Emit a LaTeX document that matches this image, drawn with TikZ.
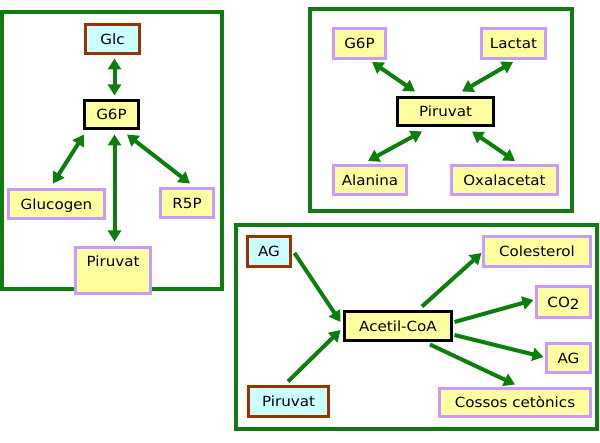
\documentclass[tikz,border=0pt]{standalone}
\usepackage{fontspec}
\setmainfont{DejaVu Sans}[FakeStretch=1.08]
\usetikzlibrary{arrows.meta,calc}
\definecolor{framegreen}{RGB}{20,122,20}
\definecolor{arrowgreen}{RGB}{10,128,10}
\definecolor{boxyellow}{RGB}{255,255,160}
\definecolor{boxcyan}{RGB}{204,255,255}
\definecolor{boxbrown}{RGB}{153,51,0}
\definecolor{boxlilac}{RGB}{204,153,255}
\tikzset{
  mbox/.style={rectangle, line width=3pt, inner sep=0pt, text height=10.2pt, text depth=0pt,
     font=\fontsize{14}{16}\selectfont, anchor=center},
  srcbox/.style={mbox, draw=boxbrown, fill=boxcyan},
  hubbox/.style={mbox, draw=black, fill=boxyellow},
  prodbox/.style={mbox, draw=boxlilac, fill=boxyellow},
  panel/.style={draw=framegreen, line width=4pt},
  biarrow/.style={draw=arrowgreen, line width=4pt, {Triangle[length=11pt,width=13pt]}-{Triangle[length=11pt,width=13pt]}},
  oarrow/.style={draw=arrowgreen, line width=4pt, -{Triangle[length=11pt,width=13pt]}}
}
\begin{document}
\begin{tikzpicture}[x=1pt,y=-1pt]
\useasboundingbox[fill=white] (0,0) rectangle (600,443);
% panels
\draw[panel] (2,12) rectangle (222,289.5);
\draw[panel] (309.5,9.5) rectangle (572,211.5);
\draw[panel] (236,225.5) rectangle (597,429);
% panel 1
\node[srcbox, minimum width=54pt, minimum height=29pt] (glc) at (112.5,39) {Glc};
\node[hubbox, minimum width=54pt, minimum height=28pt] (g6p) at (111.5,114.5) {G6P};
\node[prodbox, minimum width=96pt, minimum height=29pt] (glucogen) at (56.5,204) {Glucogen};
\node[prodbox, minimum width=53pt, minimum height=29pt] (r5p) at (187,203) {R5P};
\node[prodbox, minimum width=75pt, inner ysep=9.5pt, text height=10pt, text depth=17pt] (piruvata) at (113,270.5) {Piruvat};
\draw[biarrow] ($(glc.south)+(2,3.5)$) -- ($(g6p.north)+(3,-3.5)$);
\draw[biarrow] ($(g6p.south west)+(1,4.5)$) -- ($(glucogen.north)+(-3.5,-4.5)$);
\draw[biarrow] ($(g6p.south)+(15.5,4.5)$) -- ($(r5p.north)+(3,-3.5)$);
\draw[biarrow] ($(g6p.south)+(3,4.5)$) -- ($(piruvata.north)+(1.5,-4.5)$);
% panel 2
\node[prodbox, minimum width=52pt, minimum height=30pt] (g6pb) at (359.5,43.5) {G6P};
\node[prodbox, minimum width=64pt, minimum height=30pt] (lactat) at (513.5,43.5) {Lactat};
\node[hubbox, minimum width=96pt, minimum height=28pt] (piruvatb) at (445.5,111.5) {Piruvat};
\node[prodbox, minimum width=73pt, minimum height=29pt] (alanina) at (370,180) {Alanina};
\node[prodbox, minimum width=106pt, minimum height=29pt] (oxal) at (504.5,180) {Oxalacetat};
\draw[biarrow] ($(g6pb.south)+(12.5,2)$) -- ($(piruvatb.north)+(-30.5,-4.5)$);
\draw[biarrow] ($(lactat.south)+(-0.5,2)$) -- ($(piruvatb.north)+(16.5,-4.5)$);
\draw[biarrow] ($(piruvatb.south)+(-23.5,4.5)$) -- ($(alanina.north)+(-2,-3)$);
\draw[biarrow] ($(piruvatb.south)+(26.5,4.5)$) -- ($(oxal.north)+(10.5,-3)$);
% panel 3
\node[srcbox, minimum width=43pt, minimum height=30pt] (aga) at (269,251.5) {AG};
\node[srcbox, minimum width=80pt, minimum height=30pt] (piruvatc) at (288.5,401.5) {Piruvat};
\node[hubbox, minimum width=107pt, minimum height=29pt] (acetil) at (398,326) {Acetil-CoA};
\node[prodbox, minimum width=107pt, minimum height=30pt] (colest) at (537,251.5) {Colesterol};
\node[prodbox, minimum width=54pt, minimum height=31pt] (co2) at (563.5,302) {CO\raisebox{-2.5pt}{2}};
\node[prodbox, minimum width=44pt, minimum height=29pt] (agb) at (568.5,358) {AG};
\node[prodbox, minimum width=151pt, minimum height=28pt] (cossos) at (515,402.5) {Cossos cetònics};
\draw[oarrow] ($(aga.east)+(2.5,1.5)$) -- ($(acetil.west)+(-2.5,-4)$);
\draw[oarrow] ($(piruvatc.north)+(-0.5,-3.5)$) -- ($(acetil.west)+(-2.5,4)$);
\draw[oarrow] ($(acetil.north)+(24,-3.5)$) -- ($(colest.west)+(-0.5,1.5)$);
\draw[oarrow] ($(acetil.east)+(1.5,-4)$) -- ($(co2.west)+(-1.5,-2)$);
\draw[oarrow] ($(acetil.east)+(1.5,9)$) -- ($(agb.west)+(-1.5,-1)$);
\draw[oarrow] ($(acetil.south)+(32,2.5)$) -- ($(cossos.north)+(0,-2.5)$);
\end{tikzpicture}
\end{document}
